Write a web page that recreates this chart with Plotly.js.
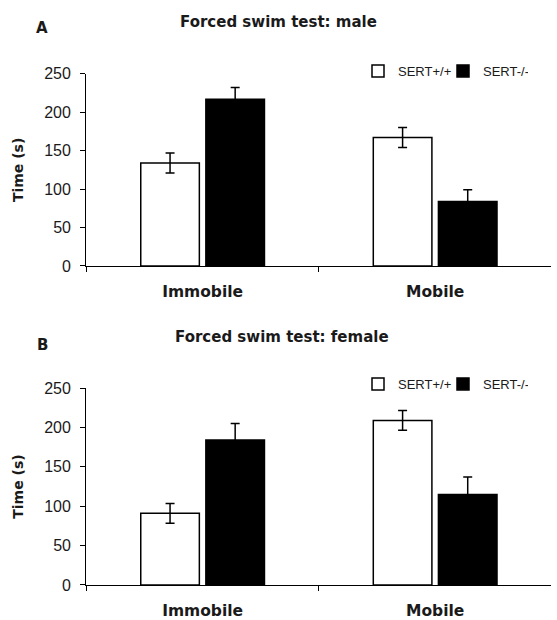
<!DOCTYPE html>
<html>
<head>
<meta charset="utf-8">
<script src="https://cdn.plot.ly/plotly-3.0.1.min.js"></script>
<style>html,body{margin:0;padding:0;background:#fff}#chart{width:557px;height:620px}</style>
</head>
<body>
<div id="chart"></div>
<script>
const categories = ["Immobile", "Mobile"];
const seriesNames = ["SERT+/+", "SERT-/-"];
const maleWT = [134, 167];
const maleWTErr = [13, 13];
const maleKO = [217, 84];
const maleKOErr = [15, 15];
const femaleWT = [91, 209];
const femaleWTErr = [12.5, 12.5];
const femaleKO = [184, 115];
const femaleKOErr = [21, 22];
const panelTitles = ["Forced swim test: male", "Forced swim test: female"];
const panelLetters = ["A", "B"];
const yTicks = [0, 50, 100, 150, 200, 250];

const ink = "#1a1a1a";
const boldFont = "DejaVu Sans, Verdana, sans-serif";
const plainFont = "Arial, Liberation Sans, sans-serif";
function barTrace(name, y, err, fill, xa, ya, leg) {
  return {
    type: "bar", name: name, x: categories, y: y,
    xaxis: xa, yaxis: ya, legend: leg, showlegend: true,
    marker: { color: fill, line: { color: "#000", width: 1.5 } },
    error_y: { type: "data", array: err, visible: true, color: "#000", thickness: 1.5, width: 4.5 }
  };
}
const data = [
  barTrace(seriesNames[0], maleWT, maleWTErr, "#ffffff", "x", "y", "legend"),
  barTrace(seriesNames[1], maleKO, maleKOErr, "#000000", "x", "y", "legend"),
  barTrace(seriesNames[0], femaleWT, femaleWTErr, "#ffffff", "x2", "y2", "legend2"),
  barTrace(seriesNames[1], femaleKO, femaleKOErr, "#000000", "x2", "y2", "legend2")
];
const xCommon = {
  type: "category", range: [-0.5, 1.5], domain: [0.155, 0.99], automargin: false,
  showline: true, linecolor: "#000", linewidth: 1.2, ticks: "outside", tickson: "boundaries",
  ticklen: 5, tickcolor: "#000", showgrid: false, zeroline: false, ticklabelstandoff: 11,
  tickfont: { family: boldFont, size: 15.5, color: ink, weight: "bold" }
};
const yCommon = {
  range: [0, 250], tickvals: yTicks, ticks: "outside", ticklen: 5, tickcolor: "#000", automargin: false,
  showline: true, linecolor: "#000", linewidth: 1.2, showgrid: false, zeroline: false,
  ticklabelstandoff: 6,
  tickfont: { family: plainFont, size: 16, color: ink },
  title: { text: "Time (s)", font: { family: boldFont, size: 14, color: ink, weight: "bold" }, standoff: 17 }
};
const legCommon = {
  orientation: "h", xanchor: "left", yanchor: "middle", bgcolor: "rgba(0,0,0,0)",
  font: { family: plainFont, size: 13, color: ink }, itemwidth: 30, entrywidth: 40, entrywidthmode: "pixels",
  tracegroupgap: 0
};
const layout = {
  width: 557, height: 620, margin: { l: 0, r: 0, t: 0, b: 0, autoexpand: false },
  paper_bgcolor: "#fff", plot_bgcolor: "#fff", showlegend: true,
  barmode: "group", bargap: 0.44, bargroupgap: 0.1,
  xaxis: Object.assign({}, xCommon, { anchor: "y" }),
  yaxis: Object.assign({}, yCommon, { domain: [0.571, 0.881], anchor: "x" }),
  xaxis2: Object.assign({}, xCommon, { anchor: "y2" }),
  yaxis2: Object.assign({}, yCommon, { domain: [0.0565, 0.374], anchor: "x2" }),
  legend: Object.assign({}, legCommon, { x: 358 / 557, y: 1 - 71 / 620 }),
  legend2: Object.assign({}, legCommon, { x: 358 / 557, y: 1 - 384 / 620 }),
  annotations: [
    { text: panelLetters[0], xref: "paper", yref: "paper", x: 42 / 557, y: 1 - 28 / 620, showarrow: false, xanchor: "center", yanchor: "middle", font: { family: boldFont, size: 15, color: ink, weight: "bold" } },
    { text: panelTitles[0], xref: "paper", yref: "paper", x: 278 / 557, y: 1 - 22 / 620, showarrow: false, xanchor: "center", yanchor: "middle", font: { family: boldFont, size: 15, color: ink, weight: "bold" } },
    { text: panelLetters[1], xref: "paper", yref: "paper", x: 42 / 557, y: 1 - 345 / 620, showarrow: false, xanchor: "center", yanchor: "middle", font: { family: boldFont, size: 15, color: ink, weight: "bold" } },
    { text: panelTitles[1], xref: "paper", yref: "paper", x: 282 / 557, y: 1 - 337 / 620, showarrow: false, xanchor: "center", yanchor: "middle", font: { family: boldFont, size: 15, color: ink, weight: "bold" } }
  ]
};
Plotly.newPlot("chart", data, layout, { staticPlot: true, displayModeBar: false });
</script>
</body>
</html>
